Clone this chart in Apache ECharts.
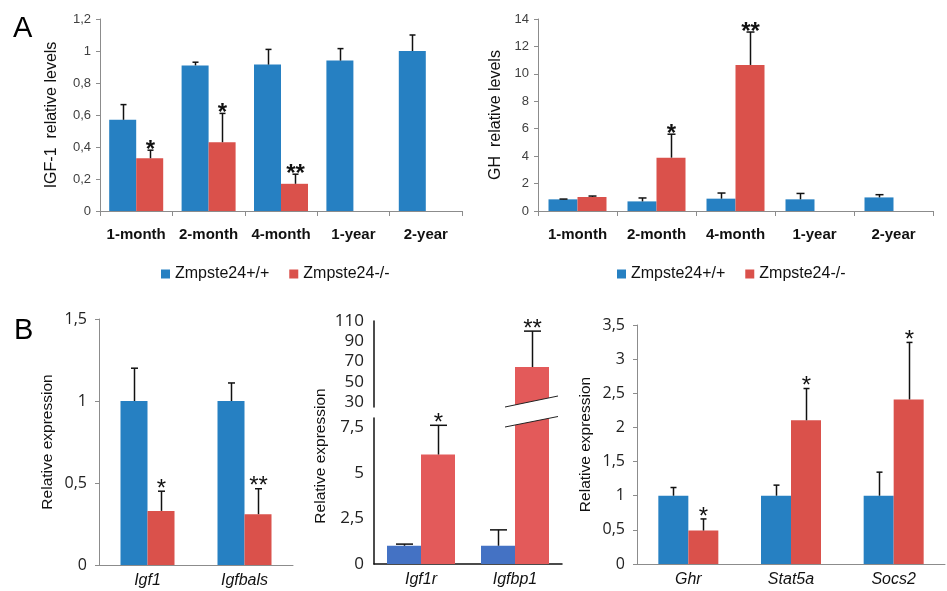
<!DOCTYPE html>
<html>
<head>
<meta charset="utf-8"/>
<title>IGF-1 / GH levels</title>
<script src="https://cdn.jsdelivr.net/npm/echarts@6.0.0/dist/echarts.min.js"></script>
<style>
  html, body { margin: 0; padding: 0; background: #fff; }
  #main { width: 947px; height: 591px; }
</style>
</head>
<body>
<div id="main"></div>
<script>
// ---- panel A : serum levels by age ----
var ageCats = ['1-month', '2-month', '4-month', '1-year', '2-year'];
var igfWt   = [0.57, 0.91, 0.915, 0.94, 1.0];
var igfWtSd = [0.095, 0.02, 0.095, 0.075, 0.10];
var igfKo   = [0.33, 0.43, 0.17, null, null];
var igfKoSd = [0.05, 0.18, 0.06, null, null];
var igfStars = ['*', '*', '**', '', ''];

var ghWt   = [0.85, 0.70, 0.90, 0.85, 0.99];
var ghWtSd = [0.02, 0.25, 0.41, 0.43, 0.20];
var ghKo   = [1.02, 3.89, 10.65, null, null];
var ghKoSd = [0.07, 1.71, 2.40, null, null];
var ghStars = ['', '*', '**', '', ''];

// ---- panel B : relative expression ----
var b1Cats = ['Igf1', 'Igfbals'];
var b1Wt = [1.0, 1.0],   b1WtSd = [0.20, 0.11];
var b1Ko = [0.33, 0.31], b1KoSd = [0.12, 0.155];
var b1Stars = ['*', '**'];

var b2Cats = ['Igf1r', 'Igfbp1'];
var b2Wt = [1.0, 1.0],  b2WtSd = [0.09, 0.87];
var b2Ko = [6.0, 64.5], b2KoSd = [1.6, 35.5];
var b2Stars = ['*', '**'];
var b2LowMax = 8;            // lower part of the broken axis
var b2HighMin = 25, b2HighMax = 110;

var b3Cats = ['Ghr', 'Stat5a', 'Socs2'];
var b3Wt = [1.0, 1.0, 1.0],    b3WtSd = [0.12, 0.155, 0.345];
var b3Ko = [0.49, 2.105, 2.41], b3KoSd = [0.17, 0.465, 0.835];
var b3Stars = ['*', '*', '*'];

var WT = 'Zmpste24+/+', KO = 'Zmpste24-/-';

var blue = '#2680C2', red = '#DA514B';
var blue2 = '#4472C4', red2 = '#E35A5A';
var fontA = 'Liberation Sans', fontB = 'Open Sans';

function comma(v) { return String(v).replace('.', ','); }

// error bar (upper half only) + significance stars
function errSeries(g, means, sds, stars, side, bw, capW, st, keep) {
    var data = [];
    for (var i = 0; i < means.length; i++) {
        if (means[i] == null) continue;
        if (keep && !keep(means[i], sds[i])) continue;
        data.push([i, means[i], sds[i]]);
    }
    return {
        type: 'custom', name: 'err', xAxisIndex: g, yAxisIndex: g, z: 10, silent: true, clip: false,
        data: data,
        renderItem: function (params, api) {
            var i = api.value(0), m = api.value(1), sd = api.value(2);
            var p0 = api.coord([i, m]), p1 = api.coord([i, m + sd]);
            var x = Math.round(p0[0] + side * bw / 2) + 0.5;
            var kids = [
                {type: 'line', shape: {x1: x, y1: p0[1], x2: x, y2: p1[1]}, style: {stroke: '#111', lineWidth: st.lw}},
                {type: 'line', shape: {x1: x - capW / 2, y1: p1[1], x2: x + capW / 2, y2: p1[1]}, style: {stroke: '#111', lineWidth: st.lw}}
            ];
            if (stars[i]) {
                kids.push({type: 'text', style: {
                    text: stars[i], x: x, y: p1[1] + st.dy, align: 'center', verticalAlign: 'middle',
                    fontSize: st.size, fontWeight: st.weight, fontFamily: st.family, fill: '#111'
                }});
            }
            return {type: 'group', children: kids};
        }
    };
}

function barSeries(g, name, data, color, bw) {
    return {
        type: 'bar', name: name, xAxisIndex: g, yAxisIndex: g, data: data,
        barWidth: bw, barGap: '0%', silent: true,
        itemStyle: {color: color}
    };
}

var grayAxis = {lineStyle: {color: '#8c8c8c', width: 1}};
var blackAxis = {lineStyle: {color: '#111', width: 1.5}};

function catAxis(g, cats, opt) {
    return Object.assign({
        type: 'category', gridIndex: g, data: cats,
        axisLine: grayAxis,
        axisTick: {show: false},
        axisLabel: {interval: 0, fontSize: 16, fontFamily: fontA, fontStyle: 'italic', color: '#111', margin: 8}
    }, opt || {});
}

function valAxis(g, min, max, interval, opt) {
    return Object.assign({
        type: 'value', gridIndex: g, min: min, max: max, interval: interval,
        splitLine: {show: false},
        axisLine: Object.assign({show: true}, grayAxis),
        axisTick: {show: true, length: 4, lineStyle: {color: '#8c8c8c'}},
        axisLabel: {fontSize: 16, fontFamily: fontB, color: '#222', margin: 12, formatter: comma},
        nameLocation: 'middle', nameRotate: 90, nameMoveOverlap: false,
        nameTextStyle: {fontSize: 15.5, fontFamily: fontA, color: '#111'}
    }, opt || {});
}

var aLabel = {interval: 0, fontSize: 15, fontFamily: fontA, fontWeight: 'bold', color: '#111', margin: 16};
var aY = {fontSize: 13, fontFamily: fontA, color: '#404040', margin: 9, formatter: comma};
var aName = {fontSize: 16, fontFamily: fontA, color: '#111'};

var starA = {lw: 1.5, dy: 0, size: 24, weight: 'bold', family: fontA};
var starB = {lw: 1.5, dy: -2, size: 24, weight: 'normal', family: fontA};

var chart = echarts.init(document.getElementById('main'));

chart.setOption({
    animation: false,
    backgroundColor: '#fff',
    title: [
        {text: 'A', left: 13, top: 14, padding: 0, textStyle: {fontSize: 29, fontWeight: 'normal', fontFamily: fontA, color: '#000'}},
        {text: 'B', left: 14, top: 316, padding: 0, textStyle: {fontSize: 29, fontWeight: 'normal', fontFamily: fontA, color: '#000'}}
    ],
    legend: [
        {data: [WT, KO], left: 156, top: 261, icon: 'rect', itemWidth: 9, itemHeight: 9, itemGap: 20,
         selectedMode: false, textStyle: {fontSize: 16, fontFamily: fontA, color: '#111'}},
        {data: [WT, KO], left: 612, top: 261, icon: 'rect', itemWidth: 9, itemHeight: 9, itemGap: 20,
         selectedMode: false, textStyle: {fontSize: 16, fontFamily: fontA, color: '#111'}}
    ],
    grid: [
        {left: 100, top: 19, width: 362, height: 192, outerBoundsMode: 'none'},
        {left: 538, top: 19, width: 395, height: 192, outerBoundsMode: 'none'},
        {left: 99, top: 319, width: 194, height: 246, outerBoundsMode: 'none'},
        {left: 374, top: 321, width: 188, height: 86, outerBoundsMode: 'none'},
        {left: 374, top: 418, width: 188, height: 146, outerBoundsMode: 'none'},
        {left: 637, top: 325, width: 308, height: 239, outerBoundsMode: 'none'}
    ],
    xAxis: [
        catAxis(0, ageCats, {axisTick: {show: true, length: 5, lineStyle: {color: '#8c8c8c'}}, axisLabel: aLabel}),
        catAxis(1, ageCats, {axisTick: {show: true, length: 5, lineStyle: {color: '#8c8c8c'}}, axisLabel: aLabel}),
        catAxis(2, b1Cats),
        catAxis(3, b2Cats, {show: false}),
        catAxis(4, b2Cats, {axisLine: blackAxis}),
        catAxis(5, b3Cats)
    ],
    yAxis: [
        valAxis(0, 0, 1.2, 0.2, {name: 'IGF-1  relative levels', nameGap: 40, axisLabel: aY, nameTextStyle: aName}),
        valAxis(1, 0, 14, 2, {name: 'GH  relative levels', nameGap: 34, axisLabel: aY, nameTextStyle: aName}),
        valAxis(2, 0, 1.5, 0.5, {name: 'Relative expression', nameGap: 43}),
        valAxis(3, b2HighMin, b2HighMax, 5, {
            axisLine: Object.assign({show: true}, blackAxis), axisTick: {show: false},
            axisLabel: {fontSize: 17, fontFamily: fontB, color: '#222', margin: 10,
                formatter: function (v) { return (v >= 30 && (v - 30) % 20 === 0) ? String(v) : ''; }}
        }),
        valAxis(4, 0, b2LowMax, 2.5, {
            name: 'Relative expression', nameGap: 45,
            nameTextStyle: {fontSize: 15.5, fontFamily: fontA, color: '#111', padding: [0, 0, 0, 70]},
            axisLine: Object.assign({show: true}, blackAxis), axisTick: {show: false},
            axisLabel: {fontSize: 17, fontFamily: fontB, color: '#222', margin: 10, showMaxLabel: false, formatter: comma}
        }),
        valAxis(5, 0, 3.5, 0.5, {name: 'Relative expression', nameGap: 43})
    ],
    series: [
        barSeries(0, WT, igfWt, blue, 27), barSeries(0, KO, igfKo, red, 27),
        errSeries(0, igfWt, igfWtSd, [], -1, 27, 6, starA),
        errSeries(0, igfKo, igfKoSd, igfStars, 1, 27, 6, starA),

        barSeries(1, WT, ghWt, blue, 29), barSeries(1, KO, ghKo, red, 29),
        errSeries(1, ghWt, ghWtSd, [], -1, 29, 8, starA),
        errSeries(1, ghKo, ghKoSd, ghStars, 1, 29, 8, starA),

        barSeries(2, WT, b1Wt, blue, 27), barSeries(2, KO, b1Ko, red, 27),
        errSeries(2, b1Wt, b1WtSd, [], -1, 27, 7, starB),
        errSeries(2, b1Ko, b1KoSd, b1Stars, 1, 27, 7, starB),

        // broken axis: upper part only shows what exceeds the lower range
        barSeries(3, WT, b2Wt.map(function (v) { return v > b2LowMax ? v : null; }), blue2, 34),
        barSeries(3, KO, b2Ko.map(function (v) { return v > b2LowMax ? v : null; }), red2, 34),
        errSeries(3, b2Ko, b2KoSd, b2Stars, 1, 34, 17, starB, function (m) { return m > b2LowMax; }),
        barSeries(4, WT, b2Wt, blue2, 34), barSeries(4, KO, b2Ko, red2, 34),
        errSeries(4, b2Wt, b2WtSd, [], -1, 34, 17, starB, function (m) { return m <= b2LowMax; }),
        errSeries(4, b2Ko, b2KoSd, b2Stars, 1, 34, 17, starB, function (m) { return m <= b2LowMax; }),

        barSeries(5, WT, b3Wt, blue, 30), barSeries(5, KO, b3Ko, red, 30),
        errSeries(5, b3Wt, b3WtSd, [], -1, 30, 6, starB),
        errSeries(5, b3Ko, b3KoSd, b3Stars, 1, 30, 6, starB)
    ]
});

// axis-break marks across the tall Igfbp1 bar
var bx = chart.convertToPixel({xAxisIndex: 4}, 1) + 17;
var yHi = chart.convertToPixel({yAxisIndex: 3}, b2HighMin);
var yLo = chart.convertToPixel({yAxisIndex: 4}, b2LowMax);
var l = bx - 27, r = bx + 26;
chart.setOption({
    graphic: [
        {type: 'polygon', z: 100, silent: true,
         shape: {points: [[l, yHi + 0], [r, yHi - 11], [r, yLo - 1.5], [l, yLo + 9]]},
         style: {fill: '#fff'}},
        {type: 'line', z: 101, silent: true, shape: {x1: l, y1: yHi, x2: r, y2: yHi - 11}, style: {stroke: '#222', lineWidth: 1}},
        {type: 'line', z: 101, silent: true, shape: {x1: l, y1: yLo + 9, x2: r, y2: yLo - 1.5}, style: {stroke: '#222', lineWidth: 1}}
    ]
});
</script>
</body>
</html>
